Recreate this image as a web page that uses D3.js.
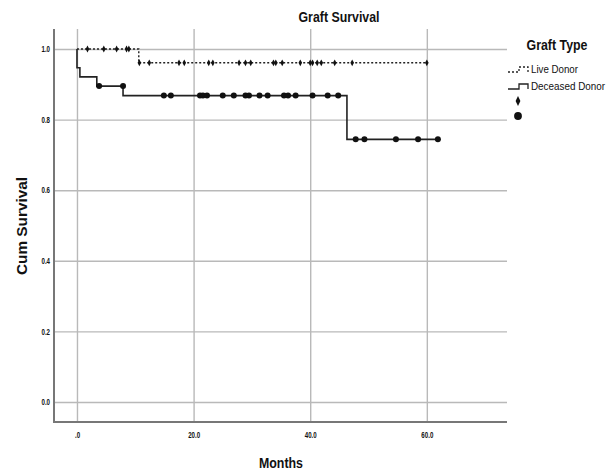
<!DOCTYPE html>
<html>
<head>
<meta charset="utf-8">
<script src="https://cdn.jsdelivr.net/npm/d3@7"></script>
<style>
  html, body { margin: 0; padding: 0; background: #fff; }
  svg { display: block; }
  text { font-family: "Liberation Sans Narrow", "Arial Narrow", "Liberation Sans", Arial, sans-serif; fill: #111; }
</style>
</head>
<body>
<svg id="chart" width="614" height="470"></svg>
<script>
// Kaplan-Meier estimates of graft survival by donor type (months)
const xTicks = [0, 20, 40, 60];
const yTicks = [0, 0.2, 0.4, 0.6, 0.8, 1.0];

// Live donor: event times and survival after each event
const liveEventTimes = [10.6];
const liveEventSurv = [0.961];
const liveEnd = 60.0;
const liveCensored = [1.8, 4.6, 6.8, 8.5, 8.9, 10.7, 12.4, 17.5, 18.4, 22.6, 23.3,
  27.8, 28.9, 29.8, 33.7, 34.1, 35.2, 38.3, 40.0, 40.4, 41.2, 41.9, 44.2, 47.2, 60.0];

// Deceased donor
const decEventTimes = [0, 0.5, 3.4, 7.9, 46.3];
const decEventSurv = [0.947, 0.921, 0.895, 0.868, 0.744];
const decEnd = 61.9;
const decCensored = [3.8, 7.9, 14.9, 16.1, 21.1, 21.6, 22.3, 25.0, 26.9, 28.9, 29.5,
  31.3, 32.7, 35.5, 36.2, 37.5, 40.4, 43.0, 44.8, 47.8, 49.3, 54.7, 58.5, 61.9];

const groups = ["Live Donor", "Deceased Donor"];

const svg = d3.select("#chart");
const plot = { left: 54, right: 507, top: 29, bottom: 422 };

const x = d3.scaleLinear().domain([-3.94, 73.75]).range([plot.left, plot.right]);
const y = d3.scaleLinear().domain([-0.0567, 1.0567]).range([plot.bottom, plot.top]);

const font = '"Liberation Sans Narrow", "Arial Narrow", "Liberation Sans", Arial, sans-serif';

// squeeze text horizontally to a condensed face
function condense(sel, ratio) {
  sel.each(function () {
    const w = this.getComputedTextLength();
    d3.select(this).attr("textLength", w * ratio).attr("lengthAdjust", "spacingAndGlyphs");
  });
}

// grid lines
const grid = svg.append("g");
grid.append("g")
  .attr("transform", `translate(0,${plot.bottom})`)
  .call(d3.axisBottom(x).tickValues(xTicks).tickSize(-(plot.bottom - plot.top)).tickFormat(""))
  .call(g => g.select(".domain").remove())
  .call(g => g.selectAll("line").attr("stroke", "#b9b9b9").attr("stroke-width", 1.4));
grid.append("g")
  .attr("transform", `translate(${plot.left},0)`)
  .call(d3.axisLeft(y).tickValues(yTicks).tickSize(-(plot.right - plot.left)).tickFormat(""))
  .call(g => g.select(".domain").remove())
  .call(g => g.selectAll("line").attr("stroke", "#b9b9b9").attr("stroke-width", 1.4));

// axis lines and tick labels
const fmtX = d => d === 0 ? ".0" : d.toFixed(1);
const xAxis = svg.append("g")
  .attr("transform", `translate(0,${plot.bottom})`)
  .call(d3.axisBottom(x).tickValues(xTicks).tickSize(0).tickPadding(10).tickFormat(fmtX));
xAxis.select(".domain").remove();
xAxis.selectAll("text").attr("font-size", 8.5).attr("font-weight", "bold").attr("font-family", font).attr("fill", "#222")
  .call(condense, 0.72);

const yAxis = svg.append("g")
  .attr("transform", `translate(${plot.left},0)`)
  .call(d3.axisLeft(y).tickValues(yTicks).tickSize(0).tickPadding(4).tickFormat(d => d.toFixed(1)));
yAxis.select(".domain").remove();
yAxis.selectAll("text").attr("font-size", 8.5).attr("font-weight", "bold").attr("font-family", font).attr("fill", "#222")
  .call(condense, 0.72);

svg.append("line")
  .attr("x1", plot.left).attr("x2", plot.right)
  .attr("y1", plot.bottom).attr("y2", plot.bottom)
  .attr("stroke", "#777").attr("stroke-width", 2);
svg.append("line")
  .attr("x1", plot.left).attr("x2", plot.left)
  .attr("y1", plot.top).attr("y2", plot.bottom + 1)
  .attr("stroke", "#777").attr("stroke-width", 2);

// survival step function
function stepPoints(times, surv, end) {
  const pts = [[0, 1.0]];
  times.forEach((t, i) => pts.push([t, surv[i]]));
  pts.push([end, surv[surv.length - 1]]);
  return pts;
}
function survAt(t, times, surv) {
  let s = 1.0;
  times.forEach((et, i) => { if (et < t) s = surv[i]; });
  return s;
}

const line = d3.line().x(d => x(d[0])).y(d => y(d[1])).curve(d3.curveStepAfter);

svg.append("path")
  .datum(stepPoints(liveEventTimes, liveEventSurv, liveEnd))
  .attr("d", line)
  .attr("fill", "none").attr("stroke", "#222").attr("stroke-width", 1.4)
  .attr("stroke-dasharray", "2,2");

svg.append("path")
  .datum(stepPoints(decEventTimes, decEventSurv, decEnd))
  .attr("d", line)
  .attr("fill", "none").attr("stroke", "#222").attr("stroke-width", 1.6);

// censored marks
const diamond = (cx, cy, w, h) => `M${cx},${cy - h}L${cx + w},${cy}L${cx},${cy + h}L${cx - w},${cy}Z`;

svg.append("g").selectAll("path")
  .data(liveCensored)
  .join("path")
  .attr("d", t => diamond(x(t), y(survAt(t, liveEventTimes, liveEventSurv)), 1.8, 3.4))
  .attr("fill", "#111");

svg.append("g").selectAll("circle")
  .data(decCensored)
  .join("circle")
  .attr("cx", t => x(t))
  .attr("cy", t => y(survAt(t, decEventTimes, decEventSurv)))
  .attr("r", 3)
  .attr("fill", "#111");

// titles
function title(txt, xPos, yPos, size, width, rotate) {
  return svg.append("text")
    .attr("transform", `translate(${xPos},${yPos})` + (rotate ? " rotate(-90)" : ""))
    .attr("text-anchor", "middle")
    .attr("font-size", size).attr("font-weight", "bold")
    .attr("textLength", width).attr("lengthAdjust", "spacingAndGlyphs")
    .text(txt);
}
title("Graft Survival", 339, 22, 14, 81, false);
title("Cum Survival", 27, 226, 15, 98, true);
title("Months", 281, 468, 15, 44, false);

// legend
const legend = svg.append("g");
legend.append("text")
  .attr("x", 557).attr("y", 50)
  .attr("text-anchor", "middle")
  .attr("font-size", 14).attr("font-weight", "bold")
  .attr("textLength", 61).attr("lengthAdjust", "spacingAndGlyphs")
  .text("Graft Type");

const legendRows = [
  { y: 69, dash: "2,2", w: 47 },
  { y: 86, dash: null, w: 74 }
];
legendRows.forEach((r, i) => {
  legend.append("path")
    .attr("d", `M508,${r.y + 3}H519V${r.y - 2}H528V${r.y + 3}`)
    .attr("fill", "none").attr("stroke", "#222").attr("stroke-width", 1.3)
    .attr("stroke-dasharray", r.dash);
  legend.append("text")
    .attr("x", 531).attr("y", r.y + 4)
    .attr("font-size", 10.8)
    .attr("textLength", r.w).attr("lengthAdjust", "spacingAndGlyphs")
    .text(groups[i]);
});
legend.append("path")
  .attr("d", diamond(518, 101, 2.4, 5))
  .attr("fill", "#111");
legend.append("path")
  .attr("d", d3.symbol().type(d3.symbolCircle).size(48)())
  .attr("transform", "translate(518,116)")
  .attr("fill", "#111");
</script>
</body>
</html>
